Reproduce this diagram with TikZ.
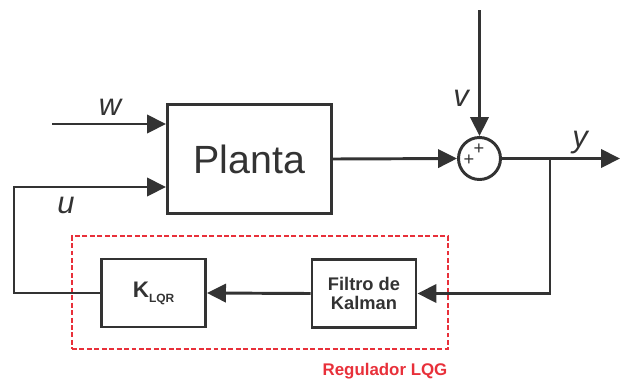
\documentclass[tikz,border=0pt]{standalone}
\usepackage{fontspec}
\setmainfont{Liberation Sans}
\usetikzlibrary{arrows.meta}
\definecolor{trazo}{HTML}{333333}
\definecolor{rojo}{HTML}{E8303A}

\begin{document}
\begin{tikzpicture}[x=0.025cm, y=-0.025cm,
  bloque/.style={draw=trazo, line width=2.1pt, rectangle, inner sep=0pt, text=trazo},
  flujo/.style={draw=trazo, line width=2.1pt, -{Triangle[length=13.5pt,width=13pt]}},
  senal/.style={text=trazo, font=\fontsize{22}{22}\selectfont\itshape},
  mas/.style={text=trazo, inner sep=0pt, font=\fontsize{13}{13}\selectfont}]
  \useasboundingbox (0,0) rectangle (620,378);
  % --- regulador LQG ---
  \node[draw=rojo, line width=1.4pt, dash pattern=on 3.5pt off 1.8pt,
    minimum width=9.4cm, minimum height=2.82cm] (lqg) at (260,292.5) {};
  \node[text=rojo, anchor=base, font=\fontsize{12}{12}\selectfont\bfseries] (lqgtxt) at (385,375) {Regulador LQG};
  % --- bloques ---
  \node[bloque, minimum width=4.1cm, minimum height=2.73cm,
    font=\fontsize{28}{28}\selectfont] (planta) at (249.5,159) {Planta};
  \node[bloque, circle, minimum size=1.05cm] (suma) at (479.5,158.5) {};
  \node[mas] (mas1) at (479,149) {+};
  \node[mas] (mas2) at (469,160) {+};
  \node[bloque, minimum width=2.6cm, minimum height=1.72cm, align=center,
    font=\fontsize{13}{13}\selectfont\bfseries] (filtro) at (364,293.5) {Filtro de\\Kalman};
  \node[bloque, minimum width=2.6cm, minimum height=1.7cm,
    font=\bfseries] (klqr) at (153.5,293)
    {\fontsize{16}{16}\selectfont K\raisebox{-3.5pt}{\fontsize{8.5}{8.5}\selectfont LQR}};
  % --- senales ---
  \coordinate (wen) at (52,124);
  \coordinate (ven) at (479.5,10);
  \coordinate (ysal) at (620,158.5);
  \coordinate (rama) at (550,158.5);
  \coordinate (uesq) at (14,187);
  \draw[flujo] (wen) -- (wen -| planta.west);
  \draw[flujo] (ven) -- (suma.north);
  \draw[flujo] (planta.east) -- (suma.west);
  \draw[flujo] (suma.east) -- (ysal);
  \draw[flujo] (rama) |- (filtro.east);
  \draw[flujo] (filtro.west) -- (klqr.east);
  \draw[flujo] (klqr.west) -| (uesq) -- (uesq -| planta.west);
  % --- etiquetas ---
  \node[senal] (lw) at (110,107) {w};
  \node[senal] (lu) at (66,205) {u};
  \node[senal] (lv) at (461,98) {v};
  \node[senal, anchor=base] (ly) at (580,147) {y};
\end{tikzpicture}
\end{document}
